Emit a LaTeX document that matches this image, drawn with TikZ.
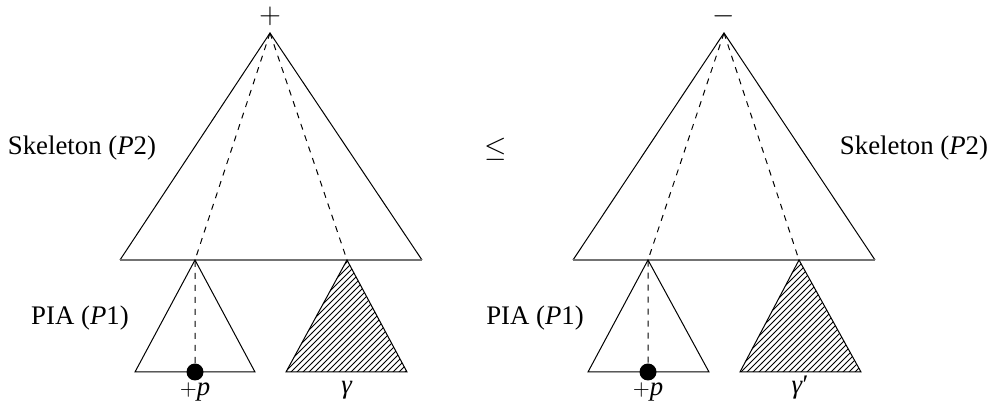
\documentclass[tikz,border=0pt]{standalone}
\usepackage{fontspec}
\setmainfont{Liberation Serif}
\usetikzlibrary{patterns}
\tikzset{treepic/.style={x=0.5pt,y=-0.5pt,font=\fontsize{13.4}{16}\selectfont},
         tree/.style={black,line width=0.5pt},
         treebase/.style={black!55,line width=1pt},
         path/.style={dashed,line width=0.5pt},
         hatched/.style={tree,pattern=north east lines},
         sign/.style={inner sep=0pt,font=\fontsize{15}{17}\selectfont},
         leaf/.style={anchor=base}}
\newcommand{\pplus}{{\fontsize{11}{12}\selectfont$+$}\textit{p}}
\begin{document}
\begin{tikzpicture}[treepic]
    \useasboundingbox (0,0) rectangle (992,405);
    % left side
    \coordinate (la) at (270,33);
    \coordinate (lbl) at (120,260);
    \coordinate (lbr) at (422,260);
    \coordinate (lp) at (195,260);
    \coordinate (lg) at (347,260);
    \draw[tree] (lbl) -- (la) -- (lbr);
    \draw[treebase] (lbl) -- (lbr);
    \draw[tree] (135,372) -- (lp) -- (255,372) -- cycle;
    \draw[hatched] (286,372) -- (lg) -- (407,372) -- cycle;
    \coordinate (ld) at (195,372);
    \draw[path] (la) -- (lp) -- (ld);
    \draw[path] (la) -- (lg);
    \fill (ld) circle (8.5);
    \node[sign] (lsign) at (270,16) {$+$};
    \node (lskel) at (82,148) {Skeleton (\textit{P}2)};
    \node (lpia) at (80,318) {PIA (\textit{P}1)};
    \node[leaf] (lplus) at (195,396) {\pplus};
    \node[leaf] (lgam) at (347,394) {\textit{γ}};
    % relation
    \node (leq) at (496,149) {$\leq$};
    % right side
    \coordinate (ra) at (724,33);
    \coordinate (rbl) at (573,260);
    \coordinate (rbr) at (875,260);
    \coordinate (rp) at (648,260);
    \coordinate (rg) at (799,260);
    \draw[tree] (rbl) -- (ra) -- (rbr);
    \draw[treebase] (rbl) -- (rbr);
    \draw[tree] (588,372) -- (rp) -- (709,372) -- cycle;
    \draw[hatched] (740,372) -- (rg) -- (861,372) -- cycle;
    \coordinate (rd) at (648,372);
    \draw[path] (ra) -- (rp) -- (rd);
    \draw[path] (ra) -- (rg);
    \fill (rd) circle (8.5);
    \node[sign] (rsign) at (724,16) {$-$};
    \node (rskel) at (914,148) {Skeleton (\textit{P}2)};
    \node (rpia) at (535,318) {PIA (\textit{P}1)};
    \node[leaf] (rplus) at (648,396) {\pplus};
    \node[leaf] (rgam) at (800,394) {\textit{γ}′};
\end{tikzpicture}
\end{document}
